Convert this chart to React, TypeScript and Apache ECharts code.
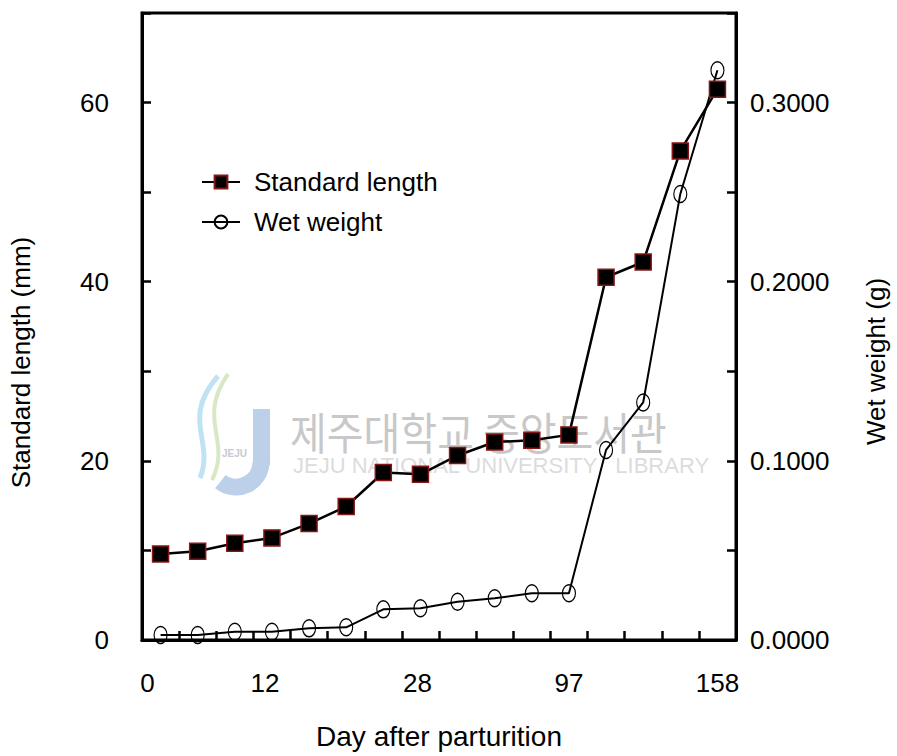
import React, { useEffect, useRef } from "react";
import * as echarts from "echarts";

const categories = ["0", "", "", "12", "", "", "", "28", "", "", "", "97", "", "", "", "158"];
const standardLength = [9.6, 9.9, 10.8, 11.4, 13.0, 14.9, 18.7, 18.5, 20.6, 22.1, 22.3, 22.9, 40.5, 42.2, 54.6, 61.5];
const wetWeight = [0.0028, 0.0028, 0.0046, 0.0046, 0.0065, 0.0071, 0.0171, 0.0177, 0.0214, 0.0233, 0.0261, 0.0261, 0.1061, 0.1326, 0.249, 0.318];
const leftTickLabels = [0, 20, 40, 60];
const rightTickLabels = [0, 0.1, 0.2, 0.3];

const FONT = "'Liberation Sans', Arial, Helvetica, sans-serif";
const FS = 26;
const ELLIPSE = "path://M0,9 A6.5,9 0 1,1 13,9 A6.5,9 0 1,1 0,9 Z";

const labelStyleKey: Record<string, string> = { "0": "s0", "12": "s1", "28": "s2", "97": "s3", "158": "s3" };

export default function App() {
  const ref = useRef<HTMLDivElement>(null);
  useEffect(() => {
    if (!ref.current) return;
    const chart = echarts.init(ref.current, undefined, { renderer: "svg" });
    const baseLbl = { fontSize: FS, color: "#000", fontFamily: FONT };
    const option: any = {
      animation: false,
      backgroundColor: "#fff",
      textStyle: { fontFamily: FONT },
      grid: {
        left: 133,
        right: 156,
        top: 13,
        bottom: 116,
        show: true,
        borderColor: "#000",
        borderWidth: 3,
      },
      legend: {
        orient: "vertical",
        left: 196,
        top: 164,
        itemWidth: 38,
        itemHeight: 16,
        itemGap: 14,
        selectedMode: false,
        textStyle: { fontSize: FS, color: "#000", fontFamily: FONT, padding: [0, 0, 0, 9] },
        data: ["Standard length", "Wet weight"],
      },
      xAxis: {
        type: "category",
        data: categories,
        boundaryGap: true,
        name: "Day after parturition",
        nameLocation: "middle",
        nameGap: 82,
        nameTextStyle: { fontSize: 28, color: "#000", fontFamily: FONT },
        axisLine: { show: true, lineStyle: { color: "#000", width: 3 } },
        axisTick: { show: true, inside: true, length: 9, interval: 0, lineStyle: { color: "#000", width: 2.5 } },
        axisLabel: {
          interval: 0,
          ...baseLbl,
          margin: 30,
          formatter: (v: string) => (v ? `{${labelStyleKey[v] || "s3"}|${v}}` : ""),
          rich: {
            s0: { ...baseLbl, padding: [0, 26, 0, 0] },
            s1: { ...baseLbl, padding: [0, 14, 0, 0] },
            s2: { ...baseLbl, padding: [0, 6, 0, 0] },
            s3: { ...baseLbl },
          },
        },
        splitLine: { show: false },
      },
      yAxis: [
        {
          type: "value",
          min: 0,
          max: 70,
          interval: 10,
          name: "Standard length (mm)",
          nameLocation: "middle",
          nameGap: 108,
          nameTextStyle: { fontSize: FS, color: "#000", fontFamily: FONT, padding: [0, 72, 0, 0] },
          axisLine: { show: true, lineStyle: { color: "#000", width: 3 } },
          axisTick: { show: true, inside: true, length: 9, lineStyle: { color: "#000", width: 2.5 } },
          axisLabel: {
            ...baseLbl,
            margin: 33,
            formatter: (v: number) => (leftTickLabels.includes(v) ? String(v) : ""),
          },
          splitLine: { show: false },
        },
        {
          type: "value",
          min: 0,
          max: 0.35,
          interval: 0.05,
          position: "right",
          name: "Wet weight (g)",
          nameLocation: "middle",
          nameGap: 127,
          nameRotate: 90,
          nameTextStyle: { fontSize: FS, color: "#000", fontFamily: FONT, padding: [0, 70, 0, 0] },
          axisLine: { show: true, lineStyle: { color: "#000", width: 3 } },
          axisTick: { show: true, inside: true, length: 9, lineStyle: { color: "#000", width: 2.5 } },
          axisLabel: {
            ...baseLbl,
            margin: 14,
            formatter: (v: number) =>
              rightTickLabels.some((t) => Math.abs(t - v) < 1e-9) ? v.toFixed(4) : "",
          },
          splitLine: { show: false },
        },
      ],
      graphic: [
        {
          type: "group",
          silent: true,
          z: -10,
          children: [
            {
              type: "bezierCurve",
              shape: { x1: 218, y1: 376, cpx1: 180, cpy1: 420, cpx2: 215, cpy2: 440, x2: 200, y2: 478 },
              style: { stroke: "#bfe3f3", lineWidth: 5, fill: null },
            },
            {
              type: "bezierCurve",
              shape: { x1: 228, y1: 374, cpx1: 196, cpy1: 420, cpx2: 232, cpy2: 440, x2: 212, y2: 480 },
              style: { stroke: "#d6e8c4", lineWidth: 4, fill: null },
            },
            {
              type: "rect",
              shape: { x: 253, y: 409, width: 17, height: 56 },
              style: { fill: "#bcd0ea" },
            },
            {
              type: "arc",
              shape: { cx: 236, cy: 462, r: 25, startAngle: 0, endAngle: Math.PI / 1.4 },
              style: { stroke: "#bcd0ea", lineWidth: 17, fill: null },
            },
            {
              type: "text",
              style: { text: "JEJU", x: 222, y: 448, fill: "#c9c9d6", fontSize: 10, fontFamily: FONT, fontWeight: "bold" },
            },
            {
              type: "text",
              scaleY: 1.1,
              originY: 431,
              style: {
                text: "제주대학교 중앙도서관",
                x: 290,
                y: 431,
                fill: "#c8c8c8",
                fontSize: 40,
                fontFamily: "'Noto Sans CJK KR'",
                verticalAlign: "middle",
                textVerticalAlign: "middle",
              },
            },
            {
              type: "text",
              style: {
                text: "JEJU NATIONAL UNIVERSITY   LIBRARY",
                x: 293,
                y: 465,
                fill: "#dcdcdc",
                fontSize: 22,
                fontFamily: FONT,
                verticalAlign: "middle",
                textVerticalAlign: "middle",
              },
            },
          ],
        },
      ],
      series: [
        {
          name: "Standard length",
          type: "line",
          yAxisIndex: 0,
          data: standardLength,
          symbol: "rect",
          symbolSize: 16,
          z: 4,
          lineStyle: { color: "#000", width: 2.5 },
          itemStyle: { color: "#000", borderColor: "#8b1414", borderWidth: 1.5 },
        },
        {
          name: "Wet weight",
          type: "line",
          yAxisIndex: 1,
          data: wetWeight,
          symbol: ELLIPSE,
          symbolSize: [13, 17],
          z: 3,
          lineStyle: { color: "#000", width: 2 },
          itemStyle: { color: "rgba(255,255,255,0)", borderColor: "#000", borderWidth: 1.3 },
        },
      ],
    };
    chart.setOption(option);
    return () => chart.dispose();
  }, []);
  return (
    <div
      ref={ref}
      style={{ position: "fixed", left: 0, top: 0, width: 897, height: 756, background: "#fff" }}
    />
  );
}
